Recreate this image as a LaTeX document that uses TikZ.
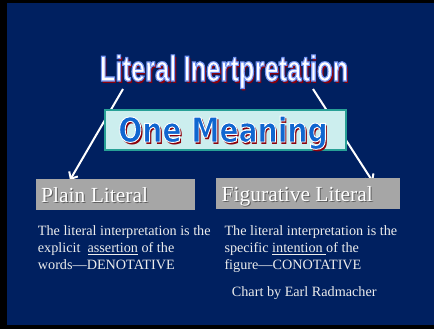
\documentclass[tikz,border=0pt]{standalone}
\usepackage{fontspec}
\setmainfont{Liberation Serif}
\newfontfamily\titlef[FakeStretch=0.71]{Liberation Sans}
\newfontfamily\onef[FakeStretch=0.83]{DejaVu Sans}
\usetikzlibrary{arrows.meta}
\definecolor{navy}{RGB}{0,32,96}
\definecolor{boxgray}{RGB}{166,166,166}
\definecolor{cyanfill}{RGB}{204,238,238}
\definecolor{tealedge}{RGB}{40,160,150}
\definecolor{shadowred}{RGB}{140,0,10}
\definecolor{oneblue}{RGB}{16,102,208}
\definecolor{bodytext}{RGB}{236,236,236}
\definecolor{headshadow}{RGB}{95,95,95}
% outlined text: fill colour from the node, stroke colour given as PDF RGB values
\newcommand\strokedtext[3]{\special{pdf:literal direct 2 Tr #2 w #1 RG}#3\special{pdf:literal direct 0 Tr}}
% text with a drop shadow (shadow colour, offset, text)
\newcommand\shadowed[3]{\makebox[0pt][l]{\hspace{#2}\raisebox{-#2}{\color{#1}#3}}}
\tikzset{
  titletext/.style={font=\titlef\bfseries\fontsize{36}{36}\selectfont, inner sep=0, anchor=base},
  onetext/.style={font=\onef\bfseries\fontsize{34}{34}\selectfont, inner sep=0, anchor=base},
  headtext/.style={font=\fontsize{21.5}{21.5}\selectfont, inner sep=0, anchor=base west, text=white},
  bodystyle/.style={font=\fontsize{14.2}{17}\selectfont, text=bodytext, inner sep=0, anchor=base west, align=left},
  grayboxstyle/.style={fill=boxgray, draw=none},
  arrowstyle/.style={draw=white, line width=2pt, -{Straight Barb[length=5.5pt,width=10pt,line width=2pt]}}
}
\begin{document}
\begin{tikzpicture}[x=1pt,y=-1pt]
\useasboundingbox (0,0) rectangle (435,329);
% frame and background
\fill[white] (0,0) rectangle (435,329);
\fill[black] (0,0) rectangle (434,329);
\fill[navy] (7,3) rectangle (434,325);

% title
\node[titletext, text=white] (title) at (224,81) {\shadowed{shadowred}{2pt}{Literal Inertpretation}\strokedtext{0.45 0.58 0.95}{1.1}{Literal Inertpretation}};

% arrows
\coordinate (ls) at (123,89);
\coordinate (le) at (70,180);
\coordinate (rs) at (313,89);
\coordinate (re) at (373,182);
\draw[arrowstyle] (ls) -- (le);
\draw[arrowstyle] (rs) -- (re);

% One Meaning box
\node[fill=cyanfill, draw=tealedge, line width=1.2pt, minimum width=241pt, minimum height=40pt, inner sep=0] (onebox) at (225.5,130) {};
\node[onetext, text=oneblue] (one) at (223,142) {\shadowed{shadowred}{2pt}{One Meaning}\strokedtext{1 1 1}{0.9}{One Meaning}};

% gray boxes
\fill[grayboxstyle] (36,179) rectangle (195,210);
\fill[grayboxstyle] (216,178) rectangle (400,209);
\node[headtext] (plain) at (41,202) {\shadowed{headshadow}{1pt}{Plain Literal}Plain Literal};
\node[headtext] (fig) at (221.5,201) {\shadowed{headshadow}{1pt}{Figurative Literal}Figurative Literal};

% body text
\node[bodystyle] (leftbody) at (37.7,269.3) {The literal interpretation is the\\explicit\ \ \underline{assertion} of the\\words---DENOTATIVE};
\node[bodystyle] (rightbody) at (224.3,269.3) {The literal interpretation is the\\specific \underline{intention\ }of the\\figure---CONOTATIVE};
\node[bodystyle] (credit) at (231.7,296) {Chart by Earl Radmacher};
\end{tikzpicture}
\end{document}
